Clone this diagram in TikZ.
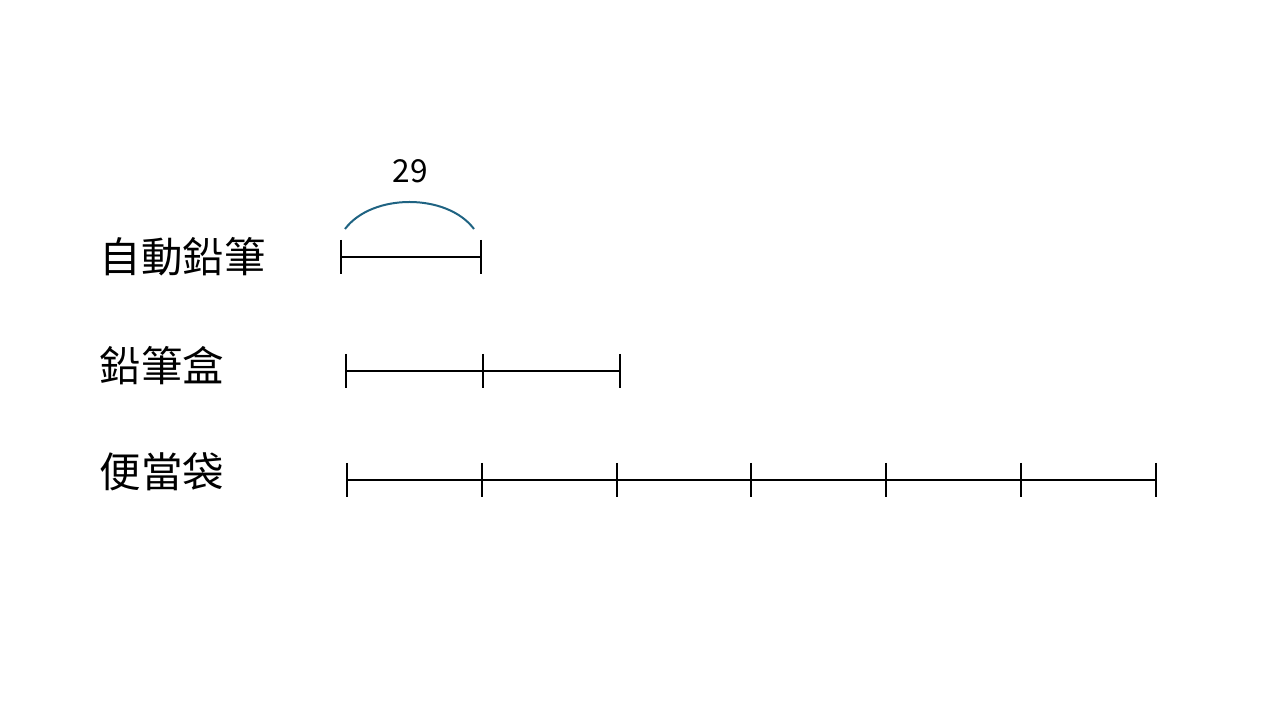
\documentclass[tikz,border=0pt]{standalone}
\usepackage{fontspec}
\setmainfont{Noto Sans CJK TC}
\usetikzlibrary{positioning}
\definecolor{arccol}{rgb}{0.12, 0.39, 0.51}
\tikzset{
  bar/.style = {line width=0.024cm, black},
  arcline/.style = {line width=0.02cm, arccol},
  name_label/.style = {anchor=west, inner sep=0pt, font=\fontsize{11.8pt}{14pt}\selectfont},
  num_label/.style = {inner sep=0pt, font=\fontsize{9pt}{11pt}\selectfont},
}
\newcommand{\notch}[1]{\draw[bar] ([yshift=0.17cm]#1) -- ([yshift=-0.17cm]#1);}

\begin{document}
\begin{tikzpicture}
    \useasboundingbox (0,0) rectangle (12.8,-7.2);

    % labels
    \node[name_label] (lpencil) at (0.99,-2.57) {自動鉛筆};
    \node[name_label] (lcase) at (0.99,-3.66) {鉛筆盒};
    \node[name_label] (lbag) at (0.99,-4.72) {便當袋};

    % first row
    \coordinate (a0) at (3.41,-2.57);
    \coordinate (a1) at (4.81,-2.57);
    \draw[bar] (a0) -- (a1);
    \notch{a0} \notch{a1}

    % second row
    \coordinate (b0) at (3.46,-3.71);
    \coordinate (b1) at (4.83,-3.71);
    \coordinate (b2) at (6.20,-3.71);
    \draw[bar] (b0) -- (b2);
    \notch{b0} \notch{b1} \notch{b2}

    % third row
    \foreach \x [count=\i from 0] in {3.47,4.82,6.17,7.51,8.86,10.21,11.56}
        {\coordinate (c\i) at (\x,-4.80);}
    \draw[bar] (c0) -- (c6);
    \foreach \i in {0,...,6}
        {\notch{c\i}}

    % arc over first unit
    \coordinate (arcl) at (3.45,-2.29);
    \coordinate (arcr) at (4.74,-2.29);
    \draw[arcline] (arcl) .. controls (3.72,-1.93) and (4.47,-1.93) .. (arcr);
    \node[num_label] (val) at (4.10,-1.71) {29};

  \end{tikzpicture}
\end{document}
